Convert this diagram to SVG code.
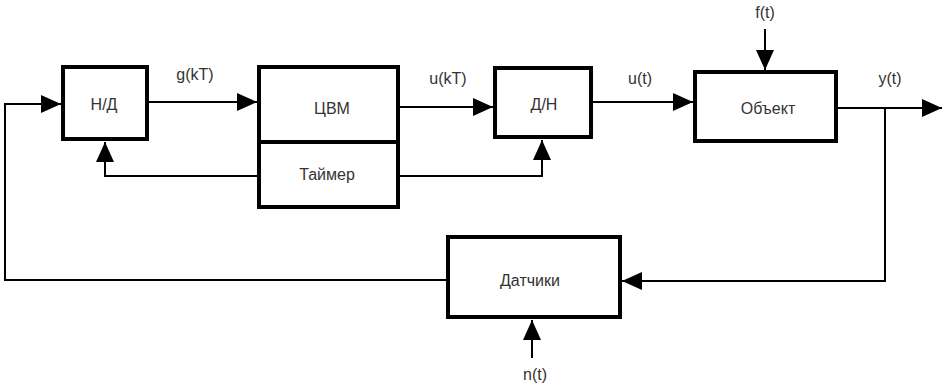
<svg xmlns="http://www.w3.org/2000/svg" width="949" height="389" viewBox="0 0 949 389">
<style>
.box{fill:#fff;stroke:#000;stroke-width:4}
.ln{fill:none;stroke:#000;stroke-width:2}
text{font-family:"Liberation Sans",Arial,sans-serif;font-size:16px;fill:#333;text-anchor:middle}
</style>
<defs>
<marker id="arr" markerUnits="userSpaceOnUse" markerWidth="20" markerHeight="18" refX="20" refY="9" orient="auto" viewBox="0 0 20 18">
<path d="M0,0 L20,9 L0,18 z" fill="#000"/>
</marker>
</defs>
<rect width="949" height="389" fill="#fff"/>
<g id="connectors">
<path class="ln" d="M446,280 H5 V104 H61" marker-end="url(#arr)"/>
<path class="ln" d="M149,102 H257" marker-end="url(#arr)"/>
<path class="ln" d="M400,107 H493" marker-end="url(#arr)"/>
<path class="ln" d="M593,102 H693" marker-end="url(#arr)"/>
<path class="ln" d="M838,108 H942" marker-end="url(#arr)"/>
<path class="ln" d="M885,108 V281 H622" marker-end="url(#arr)"/>
<path class="ln" d="M257,176 H105 V142" marker-end="url(#arr)"/>
<path class="ln" d="M399,176 H542 V140" marker-end="url(#arr)"/>
<path class="ln" d="M765,29 V70" marker-end="url(#arr)"/>
<path class="ln" d="M532,358 V320" marker-end="url(#arr)"/>
</g>
<g id="nd">
<rect class="box" x="63" y="67" width="84" height="72"/>
<text x="104" y="110">Н/Д</text>
</g>
<g id="cvm">
<rect class="box" x="259" y="67" width="139" height="75"/>
<text x="332" y="114">ЦВМ</text>
</g>
<g id="timer">
<rect class="box" x="259" y="142" width="139" height="65"/>
<text x="327" y="180">Таймер</text>
</g>
<g id="dn">
<rect class="box" x="495" y="68" width="96" height="69"/>
<text x="544" y="110">Д/Н</text>
</g>
<g id="object">
<rect class="box" x="695" y="72" width="141" height="69"/>
<text x="768" y="114">Объект</text>
</g>
<g id="sensors">
<rect class="box" x="448" y="237" width="172" height="80"/>
<text x="530" y="286">Датчики</text>
</g>
<g id="labels">
<text x="195" y="80">g(kT)</text>
<text x="448" y="84">u(kT)</text>
<text x="640" y="84">u(t)</text>
<text x="890" y="84">y(t)</text>
<text x="765" y="18">f(t)</text>
<text x="535" y="380">n(t)</text>
</g>
</svg>
